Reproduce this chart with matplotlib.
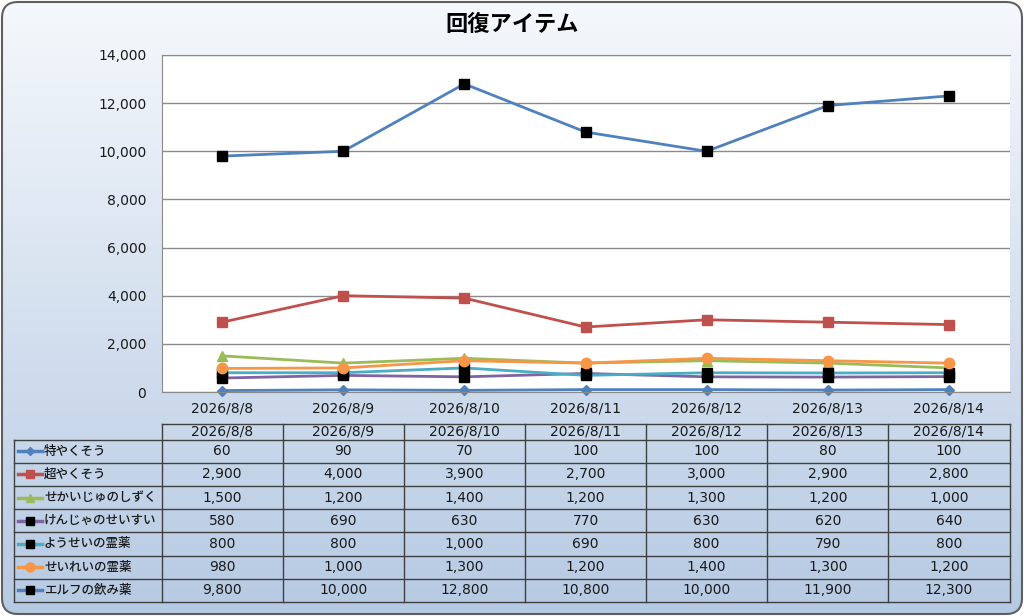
import numpy as np
import matplotlib.pyplot as plt
from matplotlib.patches import FancyBboxPatch
from matplotlib.colors import LinearSegmentedColormap
from matplotlib.ticker import FuncFormatter
from matplotlib.transforms import blended_transform_factory

plt.rcParams['font.family'] = ['DejaVu Sans', 'Noto Sans CJK JP']

dates = ['2026/8/8', '2026/8/9', '2026/8/10', '2026/8/11',
         '2026/8/12', '2026/8/13', '2026/8/14']
names = ['特やくそう', '超やくそう', 'せかいじゅのしずく', 'けんじゃのせいすい',
         'ようせいの霊薬', 'せいれいの霊薬', 'エルフの飲み薬']
toku_yakusou = [60, 90, 70, 100, 100, 80, 100]
chou_yakusou = [2900, 4000, 3900, 2700, 3000, 2900, 2800]
sekaiju = [1500, 1200, 1400, 1200, 1300, 1200, 1000]
kenja = [580, 690, 630, 770, 630, 620, 640]
yousei = [800, 800, 1000, 690, 800, 790, 800]
seirei = [980, 1000, 1300, 1200, 1400, 1300, 1200]
elf = [9800, 10000, 12800, 10800, 10000, 11900, 12300]
series = [toku_yakusou, chou_yakusou, sekaiju, kenja, yousei, seirei, elf]

# line colour, marker, marker colour, marker size
styles = [('#4F81BD', 'D', '#4F81BD', 5),
          ('#C0504D', 's', '#C0504D', 7),
          ('#9BBB59', '^', '#9BBB59', 7),
          ('#8064A2', 's', 'black', 7),
          ('#4BACC6', 's', 'black', 7),
          ('#F79646', 'o', '#F79646', 7.5),
          ('#4F81BD', 's', 'black', 7)]

W, H = 1024, 616
fig = plt.figure(figsize=(W / 100, H / 100), dpi=100)

# background with rounded frame
bg = fig.add_axes([0, 0, 1, 1], zorder=-10)
bg.set_xlim(0, W)
bg.set_ylim(H, 0)
bg.axis('off')
frame = FancyBboxPatch((2, 2), W - 4, H - 4, boxstyle='round,pad=0,rounding_size=16',
                       fc='none', ec='#5f5f5f', lw=1.5, zorder=3)
bg.add_patch(frame)
cmap = LinearSegmentedColormap.from_list('bg', ['#F5F8FC', '#B6CAE3'])
grad = np.linspace(0, 1, 256).reshape(-1, 1)
im = bg.imshow(grad, extent=[2, W - 2, H - 2, 2], aspect='auto', cmap=cmap, zorder=0)
im.set_clip_path(frame)

fig.text(0.5, 1 - 24 / H, '回復アイテム', ha='center', va='center',
         fontsize=16, fontweight='bold')

# plot area
left_px, right_px, top_px, bot_px = 161.5, 1009.5, 55, 392
ax = fig.add_axes([left_px / W, 1 - bot_px / H, (right_px - left_px) / W,
                   (bot_px - top_px) / H])
ax.set_facecolor('white')
x = np.arange(len(dates))
for vals, (c, m, mc, ms) in zip(series, styles):
    ax.plot(x, vals, color=c, lw=2, marker=m, markersize=ms,
            markerfacecolor=mc, markeredgecolor=mc, clip_on=False)
ax.set_xlim(-0.5, len(dates) - 0.5)
ax.set_ylim(0, 14000)
ax.set_yticks(np.arange(0, 14001, 2000))
ax.yaxis.set_major_formatter(FuncFormatter(lambda v, p: f'{int(v):,}'))
ax.set_xticks(x)
ax.set_xticklabels(dates)
ax.grid(axis='y', color='#8a8a8a', lw=1)
ax.set_axisbelow(True)
ax.spines['right'].set_visible(False)
for s in ['left', 'bottom', 'top']:
    ax.spines[s].set_color('#8a8a8a')
ax.tick_params(length=0, labelsize=10, labelcolor='#1a1a1a')
ax.tick_params(axis='y', pad=11)
ax.tick_params(axis='x', pad=7)

# data table
tr = blended_transform_factory(ax.transData, bg.transData)
head_top, head_bot, row_h = 424, 439.5, 23.2
tab_bot = head_bot + row_h * len(names)
lc = '#404040'
for b in np.arange(-0.5, len(dates), 1.0):
    bg.plot([b, b], [head_top, tab_bot], color=lc, lw=1, transform=tr)
bg.plot([14, 14], [head_bot, tab_bot], color=lc, lw=1)
bg.plot([left_px, right_px], [head_top, head_top], color=lc, lw=1)
for r in range(len(names) + 1):
    yy = head_bot + r * row_h
    bg.plot([14, right_px], [yy, yy], color=lc, lw=1)
for i, d in enumerate(dates):
    bg.text(i, (head_top + head_bot) / 2 - 0.5, d, transform=tr, ha='center',
            va='center', fontsize=10, color='#1a1a1a')
for r, (nm, vals, (c, m, mc, ms)) in enumerate(zip(names, series, styles)):
    yc = head_bot + (r + 0.5) * row_h
    bg.plot([18, 42], [yc, yc], color=c, lw=2.5)
    bg.plot([30], [yc], marker=m, markersize=ms - 1, color=mc)
    bg.text(44, yc, nm, ha='left', va='center', fontsize=9, fontweight='medium',
            color='#1a1a1a')
    for i, v in enumerate(vals):
        bg.text(i, yc, f'{v:,}', transform=tr, ha='center', va='center',
                fontsize=10, color='#1a1a1a')

fig.savefig('out.png', dpi=100)
